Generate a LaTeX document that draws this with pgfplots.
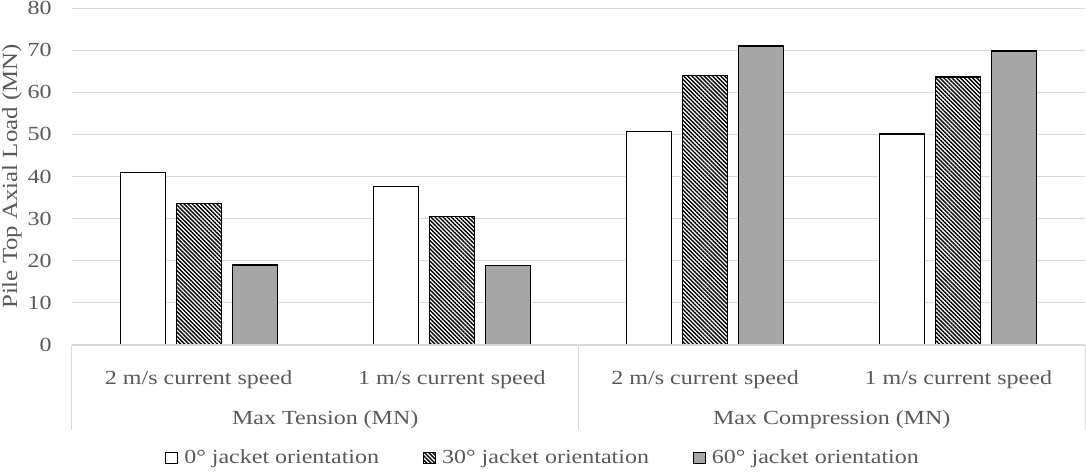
\documentclass[border=0pt]{standalone}
\usepackage{fontspec}
\setmainfont[FakeStretch=1.2]{Liberation Serif}
\newfontfamily\plainfont{Liberation Serif}
\usepackage{pgfplots}
\pgfplotsset{compat=1.18}
\usetikzlibrary{patterns.meta}
\definecolor{txt}{HTML}{595959}
\definecolor{grd}{HTML}{D9D9D9}
\definecolor{bargray}{HTML}{A6A6A6}
\begin{document}
\begin{tikzpicture}[font=\fontsize{10}{12}\selectfont]
\begin{axis}[
  scale only axis, width=506.5pt, height=168.5pt,
  ybar=5.5pt, bar width=22.5pt,
  area legend,
  legend image code/.code={\draw[#1, line width=0.5pt] (0pt,-2.75pt) rectangle (6pt,2.75pt);},
  clip=false,
  xmin=-0.5, xmax=3.5, ymin=0, ymax=80,
  xtick={0,1,2,3},
  xticklabels={2 m/s current speed, 1 m/s current speed, 2 m/s current speed, 1 m/s current speed},
  ytick={0,10,...,80},
  ymajorgrids, grid style={grd, line width=0.5pt},
  axis line style={draw=none},
  tick style={draw=none},
  tick label style={text=txt},
  /pgf/number format/assume math mode=true,
  yticklabel style={anchor=east, inner sep=0pt, xshift=-10pt},
  xticklabel style={anchor=base, inner sep=0pt, yshift=-15.5pt},
  ylabel={Pile Top Axial Load (MN)},
  ylabel style={at={(axis description cs:-0.0592,0.5)}, anchor=center, text=txt,
    font=\plainfont\fontsize{10.8}{13}\selectfont, xscale=1.15},
  legend style={at={(axis description cs:0.466,-0.335)}, anchor=center, draw=none, fill=none,
    legend columns=3, text=txt, inner sep=0pt,
    /tikz/every odd column/.append style={column sep=1pt},
    /tikz/every even column/.append style={column sep=20pt}},
]
\addplot[draw=black, line width=0.6pt, fill=white] coordinates {(0,41.0) (1,37.7) (2,50.6) (3,50.1)};
\addlegendentry{0° jacket orientation}
\addplot[draw=black, line width=0.6pt, fill=white, postaction={pattern={Lines[angle=-45,distance=1.45pt,line width=0.7pt]}}] coordinates {(0,33.5) (1,30.6) (2,63.9) (3,63.6)};
\addlegendentry{30° jacket orientation}
\addplot[draw=black, line width=0.6pt, fill=bargray] coordinates {(0,19.0) (1,18.8) (2,71.0) (3,69.8)};
\addlegendentry{60° jacket orientation}
\draw[grd, line width=0.7pt] (axis cs:-0.5,0) -- (axis cs:3.5,0);
\node[text=txt, anchor=base, yshift=-39.5pt] at (axis cs:0.5,0) {Max Tension (MN)};
\node[text=txt, anchor=base, yshift=-39.5pt] at (axis cs:2.5,0) {Max Compression (MN)};
\draw[grd, line width=0.5pt] (axis cs:-0.5,0) -- ([yshift=-42.5pt]axis cs:-0.5,0);
\draw[grd, line width=0.5pt] (axis cs:1.5,0) -- ([yshift=-42.5pt]axis cs:1.5,0);
\draw[grd, line width=0.5pt] (axis cs:3.5,0) -- ([yshift=-42.5pt]axis cs:3.5,0);
\end{axis}
\pgfresetboundingbox
\path[use as bounding box] (-36pt,-63pt) rectangle (507pt,172.5pt);
\end{tikzpicture}
\end{document}
